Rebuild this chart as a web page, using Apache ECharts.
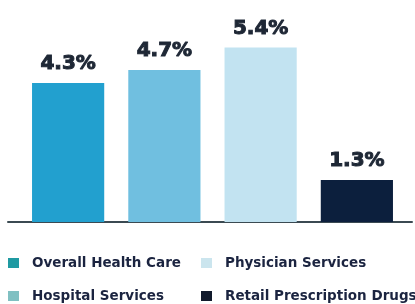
<!DOCTYPE html>
<html>
<head>
<meta charset="utf-8">
<script src="https://cdn.jsdelivr.net/npm/echarts@6/dist/echarts.min.js"></script>
<style>html,body{margin:0;padding:0;background:#fff}#c{width:415px;height:304px}</style>
</head>
<body>
<div id="c"></div>
<script>
const categories = ['Overall Health Care', 'Hospital Services', 'Physician Services', 'Retail Prescription Drugs'];
const values = [4.3, 4.7, 5.4, 1.3];
const barColors = ['#22a0cf', '#70bfe0', '#c2e3f1', '#0c1f3d'];
const legendColors = ['#1f9aa2', '#80c0c2', '#cbe5ee', '#111a2c'];

const chart = echarts.init(document.getElementById('c'), null, {renderer: 'canvas'});

const series = categories.map((name, i) => ({
  name: name,
  type: 'bar',
  stack: 'all',
  barWidth: '75%',
  xAxisIndex: 0,
  yAxisIndex: 0,
  data: categories.map((c, j) => (j === i ? values[i] : '-')),
  itemStyle: {color: barColors[i]},
  label: {
    show: true,
    position: 'top',
    distance: 9,
    formatter: p => p.value.toFixed(1) + '%',
    fontFamily: 'DejaVu Sans',
    fontWeight: 'bold',
    fontSize: 20,
    color: '#1e2735',
    textBorderColor: '#1e2735',
    textBorderWidth: 1
  }
}));

const legendPos = [
  {left: 3, top: 251},
  {left: 3, top: 284},
  {left: 196, top: 251},
  {left: 196, top: 284}
];

const legends = categories.map((name, i) => ({
  left: legendPos[i].left,
  top: legendPos[i].top,
  orient: 'horizontal',
  itemWidth: 11,
  itemHeight: 10,
  icon: 'rect',
  selectedMode: false,
  textStyle: {
    fontFamily: 'DejaVu Sans',
    fontWeight: 'bold',
    fontSize: 13.5,
    color: '#1b2440',
    padding: [0, 0, 0, 8]
  },
  data: [{name: name, itemStyle: {color: legendColors[i]}}]
}));

chart.setOption({
  animation: false,
  grid: [
    {left: 20, right: 10, top: 28, bottom: 82},
    {left: 8, right: 3, top: 28, bottom: 82}
  ],
  xAxis: [
    {type: 'category', gridIndex: 0, data: categories, axisLine: {show: false}, axisTick: {show: false}, axisLabel: {show: false}},
    {type: 'category', gridIndex: 1, data: categories, axisLine: {show: true, lineStyle: {color: '#3b4a52', width: 2}}, axisTick: {show: false}, axisLabel: {show: false}}
  ],
  yAxis: [
    {type: 'value', gridIndex: 0, min: 0, max: 6, show: false, splitLine: {show: false}},
    {type: 'value', gridIndex: 1, min: 0, max: 6, show: false, splitLine: {show: false}}
  ],
  legend: legends,
  series: series
});
</script>
</body>
</html>
